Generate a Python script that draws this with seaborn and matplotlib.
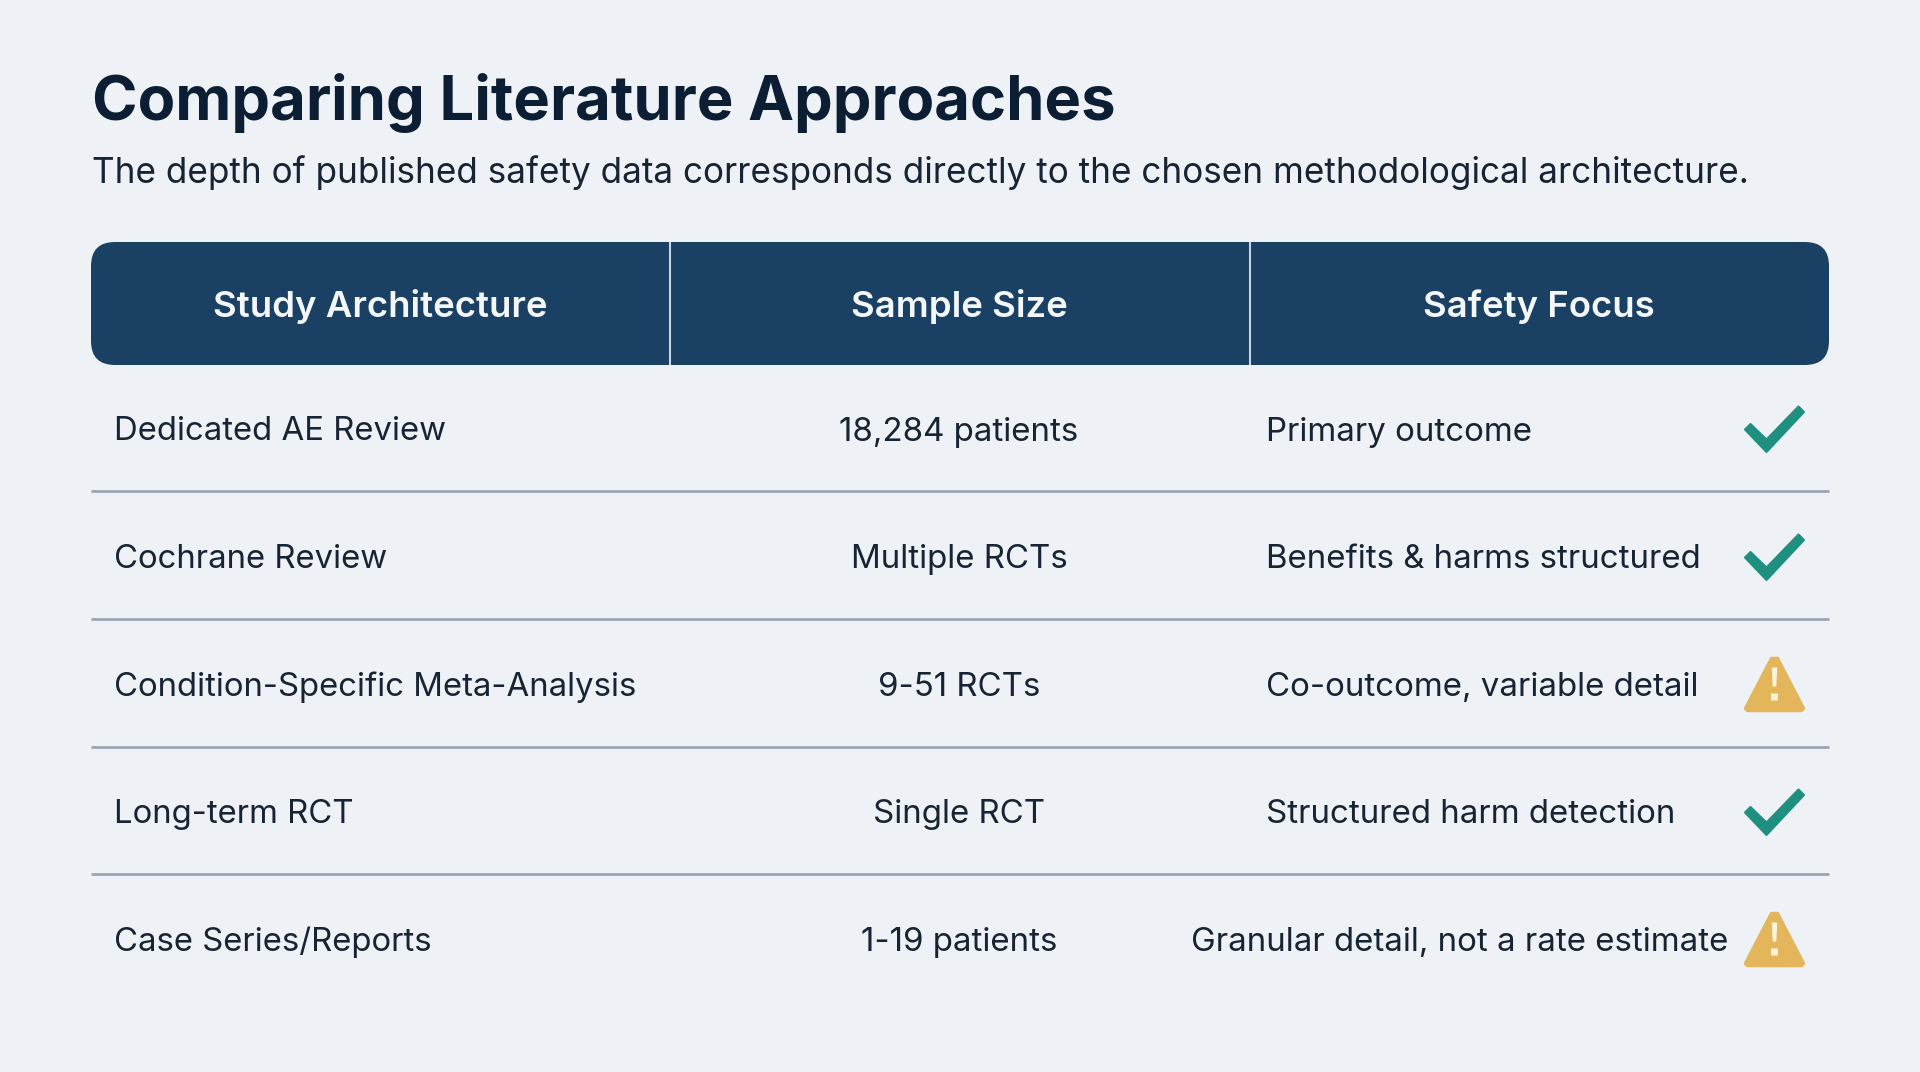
import pandas as pd
import matplotlib.pyplot as plt
import seaborn as sns
from matplotlib.patches import FancyBboxPatch
from matplotlib.path import Path

# Contenido de la tabla
title = 'Comparing Literature Approaches'
subtitle = 'The depth of published safety data corresponds directly to the chosen methodological architecture.'
headers = ['Study Architecture', 'Sample Size', 'Safety Focus']
studies = ['Dedicated AE Review', 'Cochrane Review', 'Condition-Specific Meta-Analysis',
           'Long-term RCT', 'Case Series/Reports']
samples = ['18,284 patients', 'Multiple RCTs', '9-51 RCTs', 'Single RCT', '1-19 patients']
focus = ['Primary outcome', 'Benefits & harms structured', 'Co-outcome, variable detail',
         'Structured harm detection', 'Granular detail, not a rate estimate']
status = ['ok', 'ok', 'warn', 'ok', 'warn']

# Layout en pixeles
W, H = 1920, 1072
TABLE_L, TABLE_R = 91, 1829
HEAD_T, HEAD_B = 242, 365
COL_X = [670, 1250]
ROW_Y0, ROW_STEP = 429, 127.6
ICON_X = 1773.5
INK = '#182433'

sns.set_theme(style='white')
plt.rcParams['font.family'] = ['Inter', 'DejaVu Sans']

fig, ax = plt.subplots(figsize=(W / 100, H / 100), dpi=100)
fig.patch.set_facecolor('#EEF2F7')
ax.set_position([0, 0, 1, 1])
ax.set_facecolor('#EEF2F7')
ax.set_xlim(0, W)
ax.set_ylim(H, 0)
ax.axis('off')

ax.text(92, 103, title, fontsize=44.3, fontweight='bold', color='#0C1E33', va='center')
ax.text(92, 173, subtitle, fontsize=25.3, color=INK, va='center')

# Encabezado
r = 24
ax.add_patch(FancyBboxPatch((TABLE_L + r, HEAD_T + r), TABLE_R - TABLE_L - 2 * r, HEAD_B - HEAD_T - 2 * r,
                            boxstyle=f'round,pad={r},rounding_size={r}', fc='#1A4063', ec='none'))
for x in COL_X:
    ax.plot([x, x], [HEAD_T, HEAD_B], color='#C9D6E2', lw=1.5, solid_capstyle='butt')
for x, label in zip([380, 959, 1539], headers):
    ax.text(x, 306.5, label, fontsize=26.3, fontweight='semibold', color='#F4F7FA', ha='center', va='center')

# Filas
df = pd.DataFrame({'study': studies, 'sample': samples, 'focus': focus, 'status': status})
df['y'] = [ROW_Y0 + i * ROW_STEP for i in range(len(df))]
df['x'] = ICON_X

for i, row in df.iterrows():
    text_y = row['y'] + 3
    ax.text(114, text_y, row['study'], fontsize=23.7, color=INK, va='center')
    ax.text(959, text_y, row['sample'], fontsize=23.8, color=INK, ha='center', va='center')
    # la ultima fila es mas larga y se corre a la izquierda
    focus_x = 1266 if i < len(df) - 1 else 1191
    ax.text(focus_x, text_y, row['focus'], fontsize=23.8, color=INK, va='center')
    if i < len(df) - 1:
        line_y = row['y'] + ROW_STEP / 2 - 1.5
        ax.plot([TABLE_L, TABLE_R], [line_y, line_y], color='#9AA6B3', lw=2, solid_capstyle='butt')

# Iconos: marcadores propios, en pixeles relativos al centro
check = Path([(-29.5, 0), (-24, 5.5), (-8, -10), (24, 23), (29.5, 17.5), (-8, -22.5), (-29.5, 0)], closed=True)
tri = Path([(-29, -24), (-3, 26), (3, 26), (29, -24), (27, -26), (-27, -26), (-29, -24)], closed=True)
bang = Path([(-2.8, 17), (2.8, 17), (1.8, -2), (-1.8, -2), (-2.8, 17),
             (-3.5, -9), (3.5, -9), (3.5, -16), (-3.5, -16), (-3.5, -9)],
            [Path.MOVETO, Path.LINETO, Path.LINETO, Path.LINETO, Path.CLOSEPOLY,
             Path.MOVETO, Path.LINETO, Path.LINETO, Path.LINETO, Path.CLOSEPOLY])


def marker_size(path):
    return (2 * abs(path.vertices).max() * 0.72) ** 2


sns.scatterplot(data=df[df['status'] == 'ok'], x='x', y='y', marker=check, s=marker_size(check),
                color='#1F8F7F', edgecolor='#1F8F7F', linewidth=1.5, ax=ax, legend=False)
sns.scatterplot(data=df[df['status'] == 'warn'], x='x', y='y', marker=tri, s=marker_size(tri),
                color='#E4B65C', edgecolor='#E4B65C', linewidth=2.5, ax=ax, legend=False)
sns.scatterplot(data=df[df['status'] == 'warn'], x='x', y='y', marker=bang, s=marker_size(bang),
                color='#FBF3DC', linewidth=0, ax=ax, legend=False)
ax.set_xlim(0, W)
ax.set_ylim(H, 0)
ax.axis('off')

plt.savefig('out.png', dpi=100, facecolor=fig.get_facecolor())
